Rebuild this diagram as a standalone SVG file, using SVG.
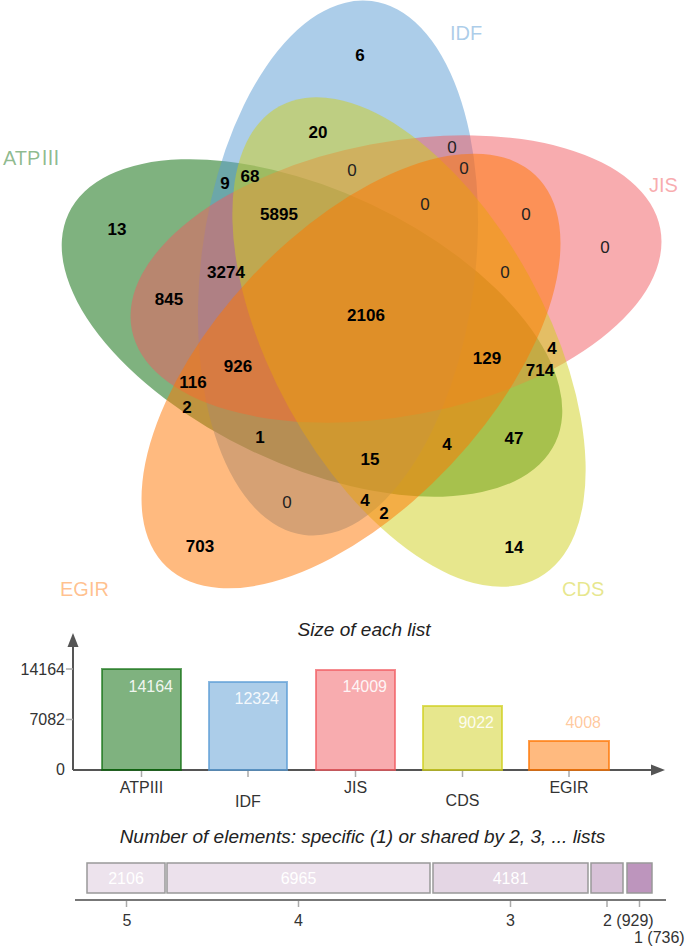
<svg xmlns="http://www.w3.org/2000/svg" width="685" height="946" viewBox="0 0 685 946">
<style>
text{font-family:"Liberation Sans",Arial,"Noto Sans CJK SC",sans-serif}
.n{font-size:17px;font-weight:bold;fill:#000;text-anchor:middle}
.z{font-size:17px;fill:#222;text-anchor:middle}
.set{font-size:20px}
.cjk{font-family:"Noto Sans CJK SC","Noto Sans CJK JP",sans-serif}
.ttl{font-size:19px;font-style:italic;fill:#222;text-anchor:middle}
.ax{font-size:16px;fill:#333;text-anchor:end}
.xl{font-size:16px;fill:#333;text-anchor:middle}
.bv{font-size:16px;fill:#fff;fill-opacity:0.9;text-anchor:end}
.sv{font-size:16px;fill:#fff;text-anchor:middle}
.axis{stroke:#555;stroke-width:2;fill:none}
.tick{stroke:#aaa;stroke-width:1.5}
.seg{stroke:#999;stroke-width:1.5}
</style>
<g id="venn">
<ellipse id="set-ATPIII" cx="312" cy="328" rx="269" ry="137" transform="rotate(25.2 312 328)" fill="#006600" fill-opacity="0.5"/>
<ellipse id="set-IDF" cx="338" cy="268" rx="269" ry="137" transform="rotate(97.2 338 268)" fill="#5a9bd4" fill-opacity="0.5"/>
<ellipse id="set-JIS" cx="396" cy="279" rx="269" ry="137" transform="rotate(-10.8 396 279)" fill="#f15a60" fill-opacity="0.5"/>
<ellipse id="set-CDS" cx="409" cy="342" rx="269" ry="137" transform="rotate(61.2 409 342)" fill="#cfcf1b" fill-opacity="0.5"/>
<ellipse id="set-EGIR" cx="351" cy="371" rx="269" ry="137" transform="rotate(133.2 351 371)" fill="#ff7500" fill-opacity="0.5"/>
</g>
<g id="set-labels">
<text class="set" x="3" y="165" fill="#006600" fill-opacity="0.45">ATP<tspan class="cjk">Ⅲ</tspan></text>
<text class="set" x="450" y="40" fill="#5a9bd4" fill-opacity="0.5">IDF</text>
<text class="set" x="649" y="192" fill="#f15a60" fill-opacity="0.5">JIS</text>
<text class="set" x="562" y="596" fill="#cfcf1b" fill-opacity="0.5">CDS</text>
<text class="set" x="60" y="596" fill="#ff7500" fill-opacity="0.45">EGIR</text>
</g>
<g id="venn-counts">
<text class="n" x="360" y="61">6</text>
<text class="n" x="318" y="138">20</text>
<text class="z" x="452" y="153">0</text>
<text class="z" x="352" y="176">0</text>
<text class="z" x="464" y="174">0</text>
<text class="n" x="225" y="189">9</text>
<text class="n" x="250" y="182">68</text>
<text class="z" x="425" y="210">0</text>
<text class="z" x="526" y="220">0</text>
<text class="n" x="279" y="220">5895</text>
<text class="n" x="117" y="235">13</text>
<text class="z" x="605" y="253">0</text>
<text class="n" x="226" y="278">3274</text>
<text class="z" x="505" y="278">0</text>
<text class="n" x="169" y="305">845</text>
<text class="n" x="366" y="321">2106</text>
<text class="n" x="487" y="364">129</text>
<text class="n" x="552" y="354">4</text>
<text class="n" x="238" y="372">926</text>
<text class="n" x="540" y="376">714</text>
<text class="n" x="193" y="388">116</text>
<text class="n" x="187" y="413">2</text>
<text class="n" x="260" y="443">1</text>
<text class="n" x="514" y="444">47</text>
<text class="n" x="447" y="450">4</text>
<text class="n" x="370" y="465">15</text>
<text class="z" x="287" y="508">0</text>
<text class="n" x="365" y="506">4</text>
<text class="n" x="384" y="519">2</text>
<text class="n" x="200" y="552">703</text>
<text class="n" x="514" y="553">14</text>
</g>
<g id="size-chart">
<text class="ttl" x="364" y="636">Size of each list</text>
<line class="axis" x1="73" y1="770" x2="73" y2="645"/>
<polygon points="73,633 67.5,647 78.5,647" fill="#555"/>
<line class="axis" x1="73" y1="770" x2="653" y2="770"/>
<polygon points="665,770 651,764.5 651,775.5" fill="#555"/>
<line class="tick" x1="66" y1="669" x2="73" y2="669"/>
<line class="tick" x1="66" y1="719.5" x2="73" y2="719.5"/>
<text class="ax" x="65" y="675">14164</text>
<text class="ax" x="65" y="725">7082</text>
<text class="ax" x="65" y="775">0</text>
<g id="bar-ATPIII">
<rect x="102" y="669" width="79" height="101" fill="#006600" fill-opacity="0.5" stroke="#006600" stroke-opacity="0.6" stroke-width="2"/>
<text class="bv" x="173" y="692">14164</text>
<line class="tick" x1="141.5" y1="771" x2="141.5" y2="777"/>
<text class="xl" x="141.5" y="793">ATPIII</text>
</g>
<g id="bar-IDF">
<rect x="209" y="682" width="78" height="88" fill="#5a9bd4" fill-opacity="0.5" stroke="#5a9bd4" stroke-opacity="0.7" stroke-width="2"/>
<text class="bv" x="279" y="704">12324</text>
<line class="tick" x1="248" y1="771" x2="248" y2="777"/>
<text class="xl" x="248" y="807">IDF</text>
</g>
<g id="bar-JIS">
<rect x="316" y="670" width="79" height="100" fill="#f15a60" fill-opacity="0.5" stroke="#f15a60" stroke-opacity="0.7" stroke-width="2"/>
<text class="bv" x="387" y="692">14009</text>
<line class="tick" x1="355.5" y1="771" x2="355.5" y2="777"/>
<text class="xl" x="355.5" y="793">JIS</text>
</g>
<g id="bar-CDS">
<rect x="423" y="706" width="79" height="64" fill="#cfcf1b" fill-opacity="0.5" stroke="#cfcf1b" stroke-opacity="0.7" stroke-width="2"/>
<text class="bv" x="494" y="728">9022</text>
<line class="tick" x1="462.5" y1="771" x2="462.5" y2="777"/>
<text class="xl" x="462.5" y="806">CDS</text>
</g>
<g id="bar-EGIR">
<rect x="529" y="741" width="80" height="29" fill="#ff7500" fill-opacity="0.5" stroke="#ff7500" stroke-opacity="0.7" stroke-width="2"/>
<text class="bv" x="601" y="728" style="fill:#ff7500;fill-opacity:0.4">4008</text>
<line class="tick" x1="569" y1="771" x2="569" y2="777"/>
<text class="xl" x="569" y="793">EGIR</text>
</g>
</g>
<g id="shared-chart">
<text class="ttl" x="362.5" y="843">Number of elements: specific (1) or shared by 2, 3, ... lists</text>
<g id="seg-5"><rect class="seg" x="87" y="863" width="78" height="30" fill="#ede3ed"/><text class="sv" x="126" y="884">2106</text></g>
<g id="seg-4"><rect class="seg" x="167" y="863" width="263" height="30" fill="#ece1ec"/><text class="sv" x="298.5" y="884">6965</text></g>
<g id="seg-3"><rect class="seg" x="433" y="863" width="155" height="30" fill="#e4d6e4"/><text class="sv" x="510.5" y="884">4181</text></g>
<g id="seg-2"><rect class="seg" x="591" y="863" width="32" height="30" fill="#d8c2d8"/></g>
<g id="seg-1"><rect class="seg" x="627" y="863" width="25" height="30" fill="#bd95bd"/></g>
<line x1="75" y1="900" x2="666" y2="900" stroke="#777" stroke-width="2"/>
<line class="tick" x1="126.5" y1="901" x2="126.5" y2="907"/>
<line class="tick" x1="298.5" y1="901" x2="298.5" y2="907"/>
<line class="tick" x1="510.5" y1="901" x2="510.5" y2="907"/>
<line class="tick" x1="607" y1="901" x2="607" y2="907"/>
<line class="tick" x1="639.5" y1="901" x2="639.5" y2="907"/>
<text class="xl" x="127" y="926">5</text>
<text class="xl" x="298.5" y="926">4</text>
<text class="xl" x="510.5" y="926">3</text>
<text class="xl" x="603" y="926" style="text-anchor:start">2 (929)</text>
<text class="xl" x="634" y="943" style="text-anchor:start">1 (736)</text>
</g>
</svg>
